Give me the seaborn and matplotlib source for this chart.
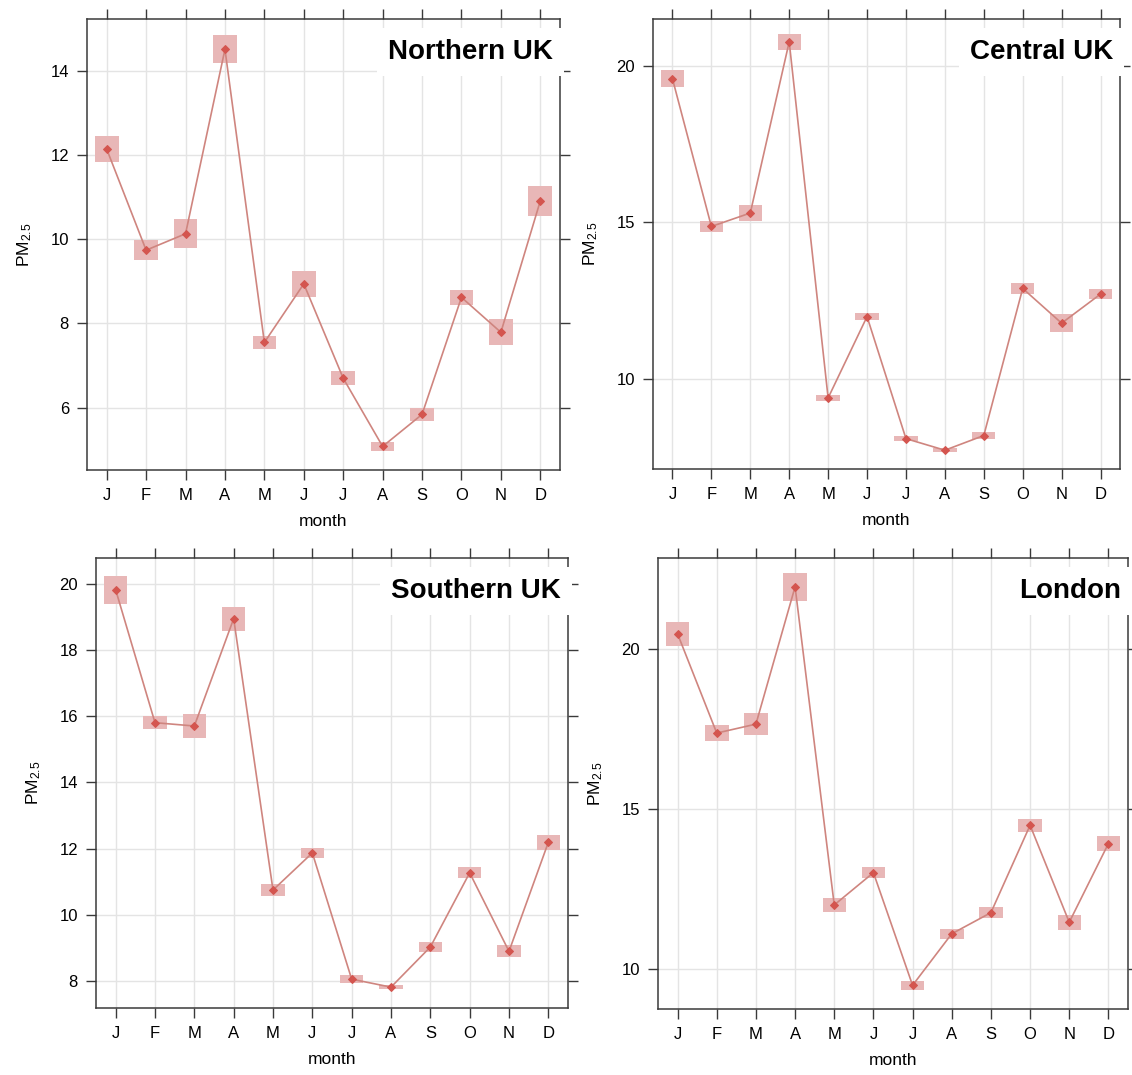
import matplotlib
matplotlib.use("Agg")
import matplotlib.pyplot as plt
import seaborn as sns
import pandas as pd

months = ["J", "F", "M", "A", "M", "J", "J", "A", "S", "O", "N", "D"]

# monthly mean PM2.5 and half-height of the shaded interval, per region
north_mean = [12.14, 9.74, 10.13, 14.51, 7.55, 8.94, 6.70, 5.08, 5.84, 8.62, 7.79, 10.91]
north_err = [0.30, 0.23, 0.34, 0.33, 0.16, 0.30, 0.17, 0.10, 0.15, 0.18, 0.31, 0.36]

central_mean = [19.58, 14.86, 15.29, 20.76, 9.38, 11.98, 8.08, 7.71, 8.18, 12.88, 11.77, 12.70]
central_err = [0.27, 0.18, 0.25, 0.26, 0.09, 0.10, 0.08, 0.06, 0.10, 0.18, 0.28, 0.15]

south_mean = [19.81, 15.80, 15.70, 18.94, 10.75, 11.87, 8.06, 7.82, 9.03, 11.27, 8.90, 12.19]
south_err = [0.42, 0.20, 0.35, 0.36, 0.18, 0.15, 0.13, 0.07, 0.14, 0.17, 0.18, 0.23]

london_mean = [20.48, 17.38, 17.66, 21.95, 12.01, 13.02, 9.50, 11.11, 11.77, 14.50, 11.47, 13.93]
london_err = [0.38, 0.25, 0.35, 0.43, 0.23, 0.17, 0.15, 0.15, 0.18, 0.20, 0.24, 0.24]

panels = [
    ("Northern UK", north_mean, north_err, (4.52, 15.23), [6, 8, 10, 12, 14]),
    ("Central UK", central_mean, central_err, (7.11, 21.49), [10, 15, 20]),
    ("Southern UK", south_mean, south_err, (7.19, 20.77), [8, 10, 12, 14, 16, 18, 20]),
    ("London", london_mean, london_err, (8.76, 22.85), [10, 15, 20]),
]

# axes boxes in pixels: left, top, right, bottom
boxes = [
    (87, 19, 560, 470),
    (653, 19, 1120, 469),
    (96, 558, 568, 1008),
    (658, 558, 1128, 1009),
]

W, H = 1132, 1075
sns.set_style("white")
plt.rcParams["font.family"] = ["Liberation Sans", "DejaVu Sans"]
plt.rcParams["mathtext.default"] = "regular"
plt.rcParams["text.color"] = "black"
plt.rcParams["axes.labelcolor"] = "black"
plt.rcParams["xtick.color"] = "#3a3a3a"
plt.rcParams["ytick.color"] = "#3a3a3a"
plt.rcParams["xtick.labelcolor"] = "black"
plt.rcParams["ytick.labelcolor"] = "black"

fig = plt.figure(figsize=(W / 100, H / 100), dpi=100)

line_col = "#cf857f"
pt_col = "#d4554f"
box_col = "#e8b7b7"
grid_col = "#e4e4e4"
frame_col = "#3a3a3a"

for (name, mean, err, ylim, yticks), (l, t, r, b) in zip(panels, boxes):
    ax = fig.add_axes([l / W, 1 - b / H, (r - l) / W, (b - t) / H])
    df = pd.DataFrame({"x": range(12), "pm": mean, "err": err})

    for v in range(12):
        ax.axvline(v, color=grid_col, lw=1, zorder=0)
    for v in yticks:
        ax.axhline(v, color=grid_col, lw=1, zorder=0)

    ax.bar(df["x"], 2 * df["err"], bottom=df["pm"] - df["err"], width=0.6,
           color=box_col, edgecolor="none", zorder=2)
    sns.lineplot(data=df, x="x", y="pm", ax=ax, color=line_col, lw=1.2,
                 marker="D", markersize=4, markerfacecolor=pt_col,
                 markeredgecolor=pt_col, zorder=3)

    ax.set_xlim(-0.5, 11.5)
    ax.set_ylim(*ylim)
    ax.set_xticks(range(12))
    ax.set_xticklabels(months)
    ax.set_yticks(yticks)
    ax.tick_params(axis="both", direction="out", length=7, width=1,
                   labelsize=12, bottom=True, left=True, top=True, right=True,
                   labeltop=False, labelright=False, pad=6)
    for s in ax.spines.values():
        s.set_color(frame_col)
        s.set_linewidth(1.1)
    ax.set_xlabel("month", fontsize=12.5, labelpad=8)
    ax.set_ylabel("PM$_{2.5}$", fontsize=12.5, labelpad=12)

    ax.text(0.985, 0.955, name, transform=ax.transAxes, ha="right", va="top",
            fontsize=20, fontweight="bold", color="black", zorder=5,
            bbox=dict(facecolor="white", edgecolor="none", pad=8))

fig.savefig("out.png", dpi=100)
